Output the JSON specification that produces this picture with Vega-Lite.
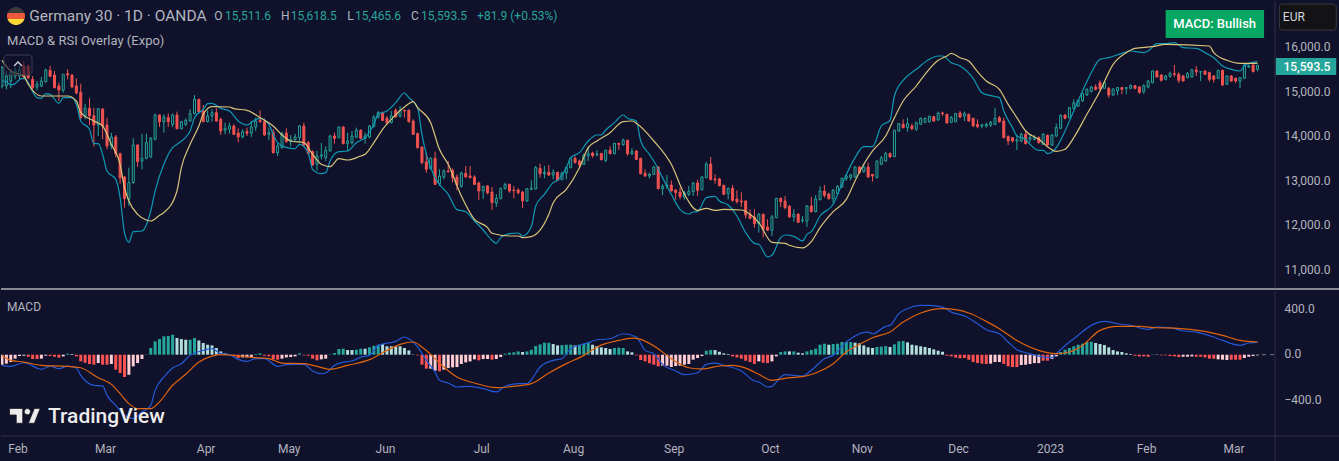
{
"$schema":"https://vega.github.io/schema/vega-lite/v6.json",
"background":"#10112b",
"padding":0,
"spacing":-1,
"data":{"values":[{}]},
"config":{"view":{"stroke":null},"concat":{"spacing":-1},"text":{"font":"Roboto"},
"axis":{"grid":false,"domain":false,"ticks":false,"title":null,"labelColor":"#b2b5be","labelFontSize":12,"labelFont":"Roboto"}},
"datasets":{
"candles":[
{"bar":0,"open":15137,"high":15586,"low":15085,"close":15548},
{"bar":1,"open":15137,"high":15473,"low":15062,"close":15361},
{"bar":2,"open":15249,"high":15511,"low":15085,"close":15436},
{"bar":3,"open":15361,"high":15548,"low":15287,"close":15473},
{"bar":4,"open":15361,"high":15586,"low":15287,"close":15511},
{"bar":5,"open":15586,"high":15698,"low":15287,"close":15339},
{"bar":6,"open":15586,"high":15623,"low":15287,"close":15324},
{"bar":7,"open":15287,"high":15361,"low":15062,"close":15100},
{"bar":8,"open":15115,"high":15249,"low":15040,"close":15175},
{"bar":9,"open":15137,"high":15339,"low":15115,"close":15249},
{"bar":10,"open":15234,"high":15526,"low":15212,"close":15496},
{"bar":11,"open":15488,"high":15586,"low":15339,"close":15354},
{"bar":12,"open":15384,"high":15473,"low":15085,"close":15100},
{"bar":13,"open":15137,"high":15212,"low":14801,"close":15047},
{"bar":14,"open":15040,"high":15399,"low":14988,"close":15399},
{"bar":15,"open":15414,"high":15511,"low":15287,"close":15384},
{"bar":16,"open":15384,"high":15399,"low":15085,"close":15115},
{"bar":17,"open":15137,"high":15309,"low":14950,"close":14980},
{"bar":18,"open":14995,"high":15189,"low":14390,"close":14427},
{"bar":19,"open":14465,"high":14741,"low":14390,"close":14636},
{"bar":20,"open":14636,"high":14861,"low":14263,"close":14465},
{"bar":21,"open":14472,"high":14651,"low":13777,"close":14263},
{"bar":22,"open":14263,"high":14636,"low":14016,"close":14629},
{"bar":23,"open":14621,"high":14636,"low":13941,"close":14240},
{"bar":24,"open":14263,"high":14427,"low":13717,"close":13792},
{"bar":25,"open":13792,"high":14091,"low":13717,"close":13994},
{"bar":26,"open":13994,"high":14038,"low":13530,"close":13620},
{"bar":27,"open":13620,"high":13642,"low":12947,"close":13082},
{"bar":28,"open":13097,"high":13119,"low":12409,"close":12611},
{"bar":29,"open":12596,"high":13306,"low":12447,"close":12970},
{"bar":30,"open":12970,"high":13964,"low":12947,"close":13814},
{"bar":31,"open":13814,"high":13829,"low":13321,"close":13441},
{"bar":32,"open":13455,"high":14068,"low":13269,"close":13515},
{"bar":33,"open":13515,"high":14068,"low":13493,"close":13867},
{"bar":34,"open":13545,"high":13994,"low":13530,"close":13964},
{"bar":35,"open":13941,"high":14517,"low":13919,"close":14487},
{"bar":36,"open":14487,"high":14502,"low":14218,"close":14337},
{"bar":37,"open":14337,"high":14502,"low":14091,"close":14442},
{"bar":38,"open":14427,"high":14517,"low":14218,"close":14337},
{"bar":39,"open":14278,"high":14517,"low":14218,"close":14487},
{"bar":40,"open":14487,"high":14562,"low":14166,"close":14180},
{"bar":41,"open":14180,"high":14352,"low":14166,"close":14337},
{"bar":42,"open":14278,"high":14412,"low":14240,"close":14367},
{"bar":43,"open":14352,"high":14614,"low":14337,"close":14517},
{"bar":44,"open":14517,"high":14935,"low":14502,"close":14838},
{"bar":45,"open":14838,"high":14853,"low":14539,"close":14562},
{"bar":46,"open":14577,"high":14711,"low":14322,"close":14337},
{"bar":47,"open":14337,"high":14592,"low":14322,"close":14465},
{"bar":48,"open":14465,"high":14614,"low":14337,"close":14539},
{"bar":49,"open":14539,"high":14636,"low":14337,"close":14352},
{"bar":50,"open":14390,"high":14427,"low":14038,"close":14128},
{"bar":51,"open":14143,"high":14315,"low":14053,"close":14188},
{"bar":52,"open":14166,"high":14315,"low":14068,"close":14240},
{"bar":53,"open":14240,"high":14278,"low":14038,"close":14053},
{"bar":54,"open":14083,"high":14188,"low":13874,"close":13994},
{"bar":55,"open":13994,"high":14166,"low":13964,"close":14113},
{"bar":56,"open":14113,"high":14203,"low":14016,"close":14076},
{"bar":57,"open":14083,"high":14352,"low":13994,"close":14218},
{"bar":58,"open":14218,"high":14427,"low":14128,"close":14352},
{"bar":59,"open":14367,"high":14592,"low":14315,"close":14337},
{"bar":60,"open":14337,"high":14412,"low":14023,"close":14038},
{"bar":61,"open":14053,"high":14203,"low":13919,"close":14091},
{"bar":62,"open":14091,"high":14166,"low":13620,"close":13642},
{"bar":63,"open":13642,"high":13844,"low":13568,"close":13792},
{"bar":64,"open":13754,"high":14113,"low":13732,"close":14068},
{"bar":65,"open":14083,"high":14188,"low":13867,"close":13889},
{"bar":66,"open":13889,"high":14038,"low":13784,"close":13934},
{"bar":67,"open":13934,"high":14068,"low":13904,"close":13994},
{"bar":68,"open":13979,"high":14263,"low":13867,"close":14240},
{"bar":69,"open":14240,"high":14315,"low":13769,"close":13814},
{"bar":70,"open":13867,"high":13904,"low":13590,"close":13627},
{"bar":71,"open":13665,"high":13695,"low":13343,"close":13366},
{"bar":72,"open":13381,"high":13680,"low":13246,"close":13568},
{"bar":73,"open":13568,"high":13859,"low":13493,"close":13590},
{"bar":74,"open":13530,"high":13784,"low":13455,"close":13695},
{"bar":75,"open":13680,"high":14038,"low":13665,"close":14016},
{"bar":76,"open":14016,"high":14091,"low":13844,"close":13964},
{"bar":77,"open":13979,"high":14233,"low":13964,"close":14218},
{"bar":78,"open":14218,"high":14233,"low":13829,"close":13844},
{"bar":79,"open":13844,"high":14091,"low":13680,"close":13904},
{"bar":80,"open":13867,"high":14128,"low":13829,"close":14016},
{"bar":81,"open":13994,"high":14203,"low":13964,"close":14143},
{"bar":82,"open":14143,"high":14166,"low":13941,"close":13964},
{"bar":83,"open":13964,"high":14091,"low":13844,"close":14016},
{"bar":84,"open":13994,"high":14263,"low":13964,"close":14240},
{"bar":85,"open":14233,"high":14479,"low":14203,"close":14442},
{"bar":86,"open":14442,"high":14577,"low":14412,"close":14539},
{"bar":87,"open":14539,"high":14562,"low":14352,"close":14367},
{"bar":88,"open":14412,"high":14465,"low":14278,"close":14307},
{"bar":89,"open":14315,"high":14577,"low":14300,"close":14465},
{"bar":90,"open":14592,"high":14636,"low":14427,"close":14442},
{"bar":91,"open":14465,"high":14689,"low":14427,"close":14592},
{"bar":92,"open":14592,"high":14614,"low":14427,"close":14577},
{"bar":93,"open":14592,"high":14614,"low":14315,"close":14337},
{"bar":94,"open":14352,"high":14390,"low":14038,"close":14053},
{"bar":95,"open":14068,"high":14091,"low":13732,"close":13754},
{"bar":96,"open":13769,"high":13784,"low":13381,"close":13418},
{"bar":97,"open":13433,"high":13642,"low":13194,"close":13269},
{"bar":98,"open":13284,"high":13545,"low":13269,"close":13515},
{"bar":99,"open":13515,"high":13665,"low":12917,"close":12932},
{"bar":100,"open":12947,"high":13269,"low":12895,"close":13119},
{"bar":101,"open":13097,"high":13269,"low":13044,"close":13231},
{"bar":102,"open":13231,"high":13455,"low":13194,"close":13216},
{"bar":103,"open":13246,"high":13291,"low":12970,"close":13082},
{"bar":104,"open":13097,"high":13157,"low":12798,"close":12917},
{"bar":105,"open":12887,"high":13216,"low":12857,"close":13186},
{"bar":106,"open":13179,"high":13343,"low":13082,"close":13097},
{"bar":107,"open":13119,"high":13343,"low":13067,"close":13082},
{"bar":108,"open":13097,"high":13134,"low":12917,"close":12932},
{"bar":109,"open":12962,"high":12992,"low":12581,"close":12783},
{"bar":110,"open":12783,"high":12895,"low":12603,"close":12887},
{"bar":111,"open":12895,"high":12917,"low":12708,"close":12738},
{"bar":112,"open":12760,"high":12872,"low":12357,"close":12521},
{"bar":113,"open":12514,"high":12708,"low":12424,"close":12618},
{"bar":114,"open":12618,"high":12857,"low":12589,"close":12843},
{"bar":115,"open":12843,"high":12970,"low":12813,"close":12932},
{"bar":116,"open":12932,"high":12947,"low":12745,"close":12783},
{"bar":117,"open":12805,"high":12895,"low":12618,"close":12790},
{"bar":118,"open":12805,"high":12843,"low":12708,"close":12745},
{"bar":119,"open":12760,"high":12783,"low":12402,"close":12559},
{"bar":120,"open":12559,"high":12843,"low":12536,"close":12835},
{"bar":121,"open":12820,"high":13022,"low":12805,"close":12843},
{"bar":122,"open":12828,"high":13343,"low":12813,"close":13306},
{"bar":123,"open":13291,"high":13396,"low":13082,"close":13171},
{"bar":124,"open":13171,"high":13343,"low":13067,"close":13201},
{"bar":125,"open":13201,"high":13366,"low":13119,"close":13141},
{"bar":126,"open":13141,"high":13269,"low":13044,"close":13201},
{"bar":127,"open":13201,"high":13216,"low":13007,"close":13022},
{"bar":128,"open":13037,"high":13216,"low":13022,"close":13186},
{"bar":129,"open":13186,"high":13343,"low":13044,"close":13306},
{"bar":130,"open":13306,"high":13530,"low":13291,"close":13515},
{"bar":131,"open":13515,"high":13560,"low":13396,"close":13425},
{"bar":132,"open":13455,"high":13485,"low":13291,"close":13366},
{"bar":133,"open":13381,"high":13620,"low":13366,"close":13590},
{"bar":134,"open":13575,"high":13769,"low":13455,"close":13620},
{"bar":135,"open":13635,"high":13665,"low":13530,"close":13575},
{"bar":136,"open":13597,"high":13695,"low":13560,"close":13612},
{"bar":137,"open":13620,"high":13642,"low":13470,"close":13485},
{"bar":138,"open":13470,"high":13710,"low":13433,"close":13695},
{"bar":139,"open":13695,"high":13784,"low":13605,"close":13620},
{"bar":140,"open":13620,"high":13859,"low":13605,"close":13852},
{"bar":141,"open":13852,"high":13859,"low":13702,"close":13829},
{"bar":142,"open":13822,"high":13956,"low":13799,"close":13926},
{"bar":143,"open":13919,"high":13934,"low":13575,"close":13620},
{"bar":144,"open":13620,"high":13740,"low":13590,"close":13665},
{"bar":145,"open":13680,"high":13695,"low":13478,"close":13493},
{"bar":146,"open":13515,"high":13530,"low":13156,"close":13171},
{"bar":147,"open":13179,"high":13269,"low":13097,"close":13119},
{"bar":148,"open":13119,"high":13194,"low":13067,"close":13156},
{"bar":149,"open":13156,"high":13343,"low":13141,"close":13321},
{"bar":150,"open":13321,"high":13343,"low":12820,"close":12835},
{"bar":151,"open":12835,"high":12932,"low":12693,"close":12887},
{"bar":152,"open":12887,"high":13142,"low":12828,"close":12917},
{"bar":153,"open":12917,"high":13022,"low":12768,"close":12783},
{"bar":154,"open":12805,"high":12820,"low":12589,"close":12745},
{"bar":155,"open":12760,"high":12857,"low":12596,"close":12656},
{"bar":156,"open":12648,"high":12783,"low":12589,"close":12738},
{"bar":157,"open":12708,"high":12895,"low":12671,"close":12775},
{"bar":158,"open":12768,"high":12977,"low":12671,"close":12962},
{"bar":159,"open":12962,"high":13037,"low":12671,"close":12798},
{"bar":160,"open":12813,"high":13112,"low":12798,"close":13097},
{"bar":161,"open":13082,"high":13433,"low":13067,"close":13388},
{"bar":162,"open":13388,"high":13545,"low":13022,"close":13037},
{"bar":163,"open":13052,"high":13157,"low":12947,"close":13030},
{"bar":164,"open":13052,"high":13082,"low":12887,"close":12903},
{"bar":165,"open":12910,"high":12925,"low":12693,"close":12708},
{"bar":166,"open":12723,"high":12857,"low":12596,"close":12843},
{"bar":167,"open":12843,"high":12917,"low":12544,"close":12574},
{"bar":168,"open":12603,"high":12798,"low":12499,"close":12544},
{"bar":169,"open":12559,"high":12753,"low":12424,"close":12536},
{"bar":170,"open":12559,"high":12574,"low":12170,"close":12245},
{"bar":171,"open":12260,"high":12372,"low":12148,"close":12170},
{"bar":172,"open":12200,"high":12372,"low":11961,"close":12050},
{"bar":173,"open":12050,"high":12290,"low":11849,"close":12260},
{"bar":174,"open":12260,"high":12275,"low":11737,"close":11923},
{"bar":175,"open":11976,"high":12148,"low":11886,"close":11901},
{"bar":176,"open":11901,"high":12245,"low":11774,"close":12200},
{"bar":177,"open":12185,"high":12633,"low":12170,"close":12618},
{"bar":178,"open":12618,"high":12633,"low":12424,"close":12544},
{"bar":179,"open":12559,"high":12671,"low":12372,"close":12409},
{"bar":180,"open":12439,"high":12469,"low":12185,"close":12200},
{"bar":181,"open":12200,"high":12372,"low":12095,"close":12260},
{"bar":182,"open":12260,"high":12290,"low":12065,"close":12080},
{"bar":183,"open":12118,"high":12222,"low":12065,"close":12133},
{"bar":184,"open":12110,"high":12469,"low":11976,"close":12447},
{"bar":185,"open":12447,"high":12648,"low":12304,"close":12319},
{"bar":186,"open":12319,"high":12693,"low":12304,"close":12603},
{"bar":187,"open":12588,"high":12887,"low":12574,"close":12783},
{"bar":188,"open":12783,"high":12917,"low":12633,"close":12686},
{"bar":189,"open":12716,"high":12745,"low":12589,"close":12611},
{"bar":190,"open":12611,"high":12820,"low":12521,"close":12805},
{"bar":191,"open":12723,"high":12917,"low":12708,"close":12887},
{"bar":192,"open":12873,"high":13082,"low":12857,"close":13067},
{"bar":193,"open":13067,"high":13157,"low":13007,"close":13119},
{"bar":194,"open":13082,"high":13171,"low":13022,"close":13142},
{"bar":195,"open":13097,"high":13336,"low":13082,"close":13321},
{"bar":196,"open":13321,"high":13343,"low":13171,"close":13194},
{"bar":197,"open":13216,"high":13396,"low":13194,"close":13314},
{"bar":198,"open":13321,"high":13418,"low":13082,"close":13097},
{"bar":199,"open":13157,"high":13157,"low":12992,"close":13119},
{"bar":200,"open":13082,"high":13470,"low":13067,"close":13455},
{"bar":201,"open":13381,"high":13568,"low":13366,"close":13530},
{"bar":202,"open":13455,"high":13665,"low":13441,"close":13620},
{"bar":203,"open":13627,"high":13642,"low":13530,"close":13545},
{"bar":204,"open":13553,"high":14158,"low":13545,"close":14143},
{"bar":205,"open":14128,"high":14307,"low":14113,"close":14293},
{"bar":206,"open":14278,"high":14390,"low":14188,"close":14203},
{"bar":207,"open":14203,"high":14427,"low":14113,"close":14293},
{"bar":208,"open":14240,"high":14293,"low":14143,"close":14180},
{"bar":209,"open":14166,"high":14337,"low":14128,"close":14315},
{"bar":210,"open":14278,"high":14427,"low":14263,"close":14412},
{"bar":211,"open":14322,"high":14427,"low":14307,"close":14412},
{"bar":212,"open":14337,"high":14472,"low":14315,"close":14457},
{"bar":213,"open":14450,"high":14465,"low":14337,"close":14352},
{"bar":214,"open":14375,"high":14562,"low":14360,"close":14524},
{"bar":215,"open":14532,"high":14562,"low":14465,"close":14517},
{"bar":216,"open":14502,"high":14517,"low":14293,"close":14307},
{"bar":217,"open":14322,"high":14465,"low":14307,"close":14427},
{"bar":218,"open":14337,"high":14532,"low":14322,"close":14517},
{"bar":219,"open":14532,"high":14577,"low":14412,"close":14442},
{"bar":220,"open":14465,"high":14562,"low":14352,"close":14517},
{"bar":221,"open":14502,"high":14517,"low":14337,"close":14352},
{"bar":222,"open":14412,"high":14427,"low":14225,"close":14240},
{"bar":223,"open":14278,"high":14390,"low":14188,"close":14225},
{"bar":224,"open":14240,"high":14293,"low":14188,"close":14263},
{"bar":225,"open":14240,"high":14315,"low":14203,"close":14278},
{"bar":226,"open":14263,"high":14352,"low":14218,"close":14323},
{"bar":227,"open":14278,"high":14651,"low":14263,"close":14412},
{"bar":228,"open":14427,"high":14465,"low":14315,"close":14337},
{"bar":229,"open":14352,"high":14427,"low":13964,"close":13979},
{"bar":230,"open":14008,"high":14031,"low":13814,"close":13904},
{"bar":231,"open":13979,"high":13994,"low":13867,"close":13904},
{"bar":232,"open":13904,"high":14053,"low":13702,"close":13926},
{"bar":233,"open":13904,"high":14091,"low":13874,"close":14053},
{"bar":234,"open":14053,"high":14143,"low":13829,"close":13844},
{"bar":235,"open":13941,"high":14038,"low":13867,"close":13979},
{"bar":236,"open":13941,"high":14038,"low":13919,"close":13979},
{"bar":237,"open":13979,"high":14008,"low":13844,"close":13867},
{"bar":238,"open":13829,"high":14083,"low":13814,"close":14053},
{"bar":239,"open":14031,"high":14046,"low":13799,"close":13814},
{"bar":240,"open":13814,"high":14053,"low":13799,"close":14038},
{"bar":241,"open":14016,"high":14293,"low":13994,"close":14203},
{"bar":242,"open":14188,"high":14502,"low":14166,"close":14479},
{"bar":243,"open":14487,"high":14502,"low":14390,"close":14412},
{"bar":244,"open":14427,"high":14666,"low":14412,"close":14651},
{"bar":245,"open":14636,"high":14838,"low":14614,"close":14763},
{"bar":246,"open":14689,"high":14831,"low":14666,"close":14816},
{"bar":247,"open":14801,"high":14980,"low":14786,"close":14965},
{"bar":248,"open":14935,"high":15085,"low":14913,"close":15062},
{"bar":249,"open":15010,"high":15137,"low":14995,"close":15115},
{"bar":250,"open":15115,"high":15175,"low":15040,"close":15062},
{"bar":251,"open":15212,"high":15264,"low":15055,"close":15070},
{"bar":252,"open":15085,"high":15234,"low":15070,"close":15212},
{"bar":253,"open":15085,"high":15115,"low":14876,"close":14935},
{"bar":254,"open":14935,"high":15085,"low":14920,"close":15070},
{"bar":255,"open":15025,"high":15115,"low":14935,"close":15100},
{"bar":256,"open":15100,"high":15122,"low":14950,"close":15062},
{"bar":257,"open":15085,"high":15115,"low":14950,"close":15100},
{"bar":258,"open":15085,"high":15175,"low":15062,"close":15145},
{"bar":259,"open":15145,"high":15160,"low":15062,"close":15085},
{"bar":260,"open":15115,"high":15130,"low":14965,"close":14988},
{"bar":261,"open":15010,"high":15175,"low":14965,"close":15145},
{"bar":262,"open":15115,"high":15264,"low":15085,"close":15249},
{"bar":263,"open":15212,"high":15488,"low":15197,"close":15473},
{"bar":264,"open":15473,"high":15488,"low":15324,"close":15339},
{"bar":265,"open":15384,"high":15399,"low":15234,"close":15264},
{"bar":266,"open":15287,"high":15384,"low":15264,"close":15361},
{"bar":267,"open":15354,"high":15458,"low":15324,"close":15414},
{"bar":268,"open":15414,"high":15608,"low":15339,"close":15399},
{"bar":269,"open":15399,"high":15444,"low":15204,"close":15264},
{"bar":270,"open":15361,"high":15384,"low":15234,"close":15249},
{"bar":271,"open":15324,"high":15451,"low":15309,"close":15414},
{"bar":272,"open":15339,"high":15526,"low":15324,"close":15496},
{"bar":273,"open":15496,"high":15586,"low":15361,"close":15458},
{"bar":274,"open":15451,"high":15473,"low":15249,"close":15458},
{"bar":275,"open":15473,"high":15488,"low":15384,"close":15399},
{"bar":276,"open":15436,"high":15458,"low":15234,"close":15287},
{"bar":277,"open":15361,"high":15384,"low":15212,"close":15287},
{"bar":278,"open":15309,"high":15503,"low":15294,"close":15488},
{"bar":279,"open":15488,"high":15503,"low":15137,"close":15160},
{"bar":280,"open":15175,"high":15376,"low":15160,"close":15361},
{"bar":281,"open":15361,"high":15384,"low":15234,"close":15249},
{"bar":282,"open":15309,"high":15324,"low":15204,"close":15249},
{"bar":283,"open":15249,"high":15339,"low":15085,"close":15324},
{"bar":284,"open":15309,"high":15623,"low":15294,"close":15608},
{"bar":285,"open":15563,"high":15623,"low":15548,"close":15586},
{"bar":286,"open":15608,"high":15638,"low":15444,"close":15458},
{"bar":287,"open":15511.6,"high":15618.5,"low":15465.6,"close":15593.5}
],
"fast":[
{"bar":0,"value":15249},{"bar":1,"value":15234},{"bar":2,"value":15160},{"bar":3,"value":15190},{"bar":4,"value":15279},{"bar":5,"value":15309},{"bar":6,"value":15212},{"bar":7,"value":15010},{"bar":8,"value":14876},{"bar":9,"value":14861},{"bar":10,"value":14965},{"bar":11,"value":14950},{"bar":13,"value":14749},{"bar":14,"value":14876},{"bar":16,"value":14876},{"bar":17,"value":14726},{"bar":18,"value":14352},{"bar":20,"value":14166},{"bar":21,"value":13844},{"bar":22,"value":13844},{"bar":23,"value":13605},{"bar":24,"value":13231},{"bar":26,"value":13044},{"bar":27,"value":12633},{"bar":28,"value":11849},{"bar":29,"value":11632},{"bar":30,"value":11871},{"bar":32,"value":11886},{"bar":34,"value":12334},{"bar":35,"value":12783},{"bar":37,"value":13381},{"bar":39,"value":13754},{"bar":40,"value":13829},{"bar":43,"value":14128},{"bar":44,"value":14427},{"bar":46,"value":14614},{"bar":47,"value":14741},{"bar":48,"value":14749},{"bar":50,"value":14636},{"bar":52,"value":14577},{"bar":54,"value":14352},{"bar":56,"value":14263},{"bar":58,"value":14390},{"bar":59,"value":14412},{"bar":61,"value":14278},{"bar":62,"value":14053},{"bar":63,"value":13866},{"bar":66,"value":13740},{"bar":67,"value":13732},{"bar":68,"value":13829},{"bar":70,"value":13642},{"bar":71,"value":13269},{"bar":73,"value":13171},{"bar":74,"value":13194},{"bar":75,"value":13455},{"bar":77,"value":13665},{"bar":79,"value":13680},{"bar":81,"value":13866},{"bar":83,"value":13979},{"bar":85,"value":14278},{"bar":86,"value":14502},{"bar":88,"value":14577},{"bar":90,"value":14763},{"bar":92,"value":14980},{"bar":93,"value":14876},{"bar":95,"value":14651},{"bar":96,"value":14053},{"bar":97,"value":13605},{"bar":99,"value":13082},
{"bar":100,"value":12932},{"bar":102,"value":12708},{"bar":104,"value":12364},{"bar":106,"value":12319},{"bar":108,"value":12110},{"bar":110,"value":11908},{"bar":112,"value":11677},{"bar":113,"value":11609},{"bar":114,"value":11736},{"bar":116,"value":11826},{"bar":118,"value":11841},{"bar":119,"value":11774},{"bar":121,"value":11983},{"bar":122,"value":12447},{"bar":124,"value":12708},{"bar":126,"value":12970},{"bar":127,"value":13022},{"bar":129,"value":13306},{"bar":130,"value":13530},{"bar":132,"value":13642},{"bar":134,"value":13904},{"bar":136,"value":14038},{"bar":137,"value":14038},{"bar":138,"value":14151},{"bar":140,"value":14315},{"bar":142,"value":14487},{"bar":143,"value":14412},{"bar":145,"value":14352},{"bar":146,"value":13904},{"bar":148,"value":13605},{"bar":149,"value":13455},{"bar":151,"value":13082},{"bar":153,"value":12708},{"bar":155,"value":12372},{"bar":157,"value":12267},{"bar":158,"value":12312},{"bar":159,"value":12319},{"bar":161,"value":12633},{"bar":163,"value":12663},{"bar":164,"value":12558},{"bar":166,"value":12469},{"bar":168,"value":12222},{"bar":170,"value":11849},{"bar":172,"value":11609},{"bar":173,"value":11587},{"bar":175,"value":11303},{"bar":176,"value":11340},{"bar":178,"value":11736},{"bar":179,"value":11796},{"bar":181,"value":11766},{"bar":183,"value":11662},{"bar":184,"value":11811},{"bar":185,"value":11871},{"bar":187,"value":12222},{"bar":190,"value":12484},{"bar":192,"value":12932},{"bar":195,"value":13530},{"bar":197,"value":13777},
{"bar":199,"value":13777},{"bar":201,"value":14240},{"bar":203,"value":14367},{"bar":204,"value":14913},{"bar":206,"value":15264},{"bar":209,"value":15511},{"bar":212,"value":15735},{"bar":214,"value":15810},{"bar":215,"value":15810},{"bar":217,"value":15660},{"bar":219,"value":15586},{"bar":222,"value":15309},{"bar":224,"value":14988},{"bar":226,"value":14920},{"bar":228,"value":14876},{"bar":229,"value":14577},{"bar":231,"value":14203},{"bar":232,"value":14016},{"bar":234,"value":13941},{"bar":235,"value":13829},{"bar":237,"value":13695},{"bar":238,"value":13695},{"bar":239,"value":13620},{"bar":241,"value":13754},{"bar":243,"value":14128},{"bar":245,"value":14577},{"bar":247,"value":15025},{"bar":249,"value":15436},{"bar":251,"value":15735},{"bar":253,"value":15772},{"bar":256,"value":15870},{"bar":258,"value":15922},{"bar":261,"value":15885},{"bar":262,"value":15922},{"bar":264,"value":16086},{"bar":266,"value":16086},{"bar":268,"value":16109},{"bar":270,"value":15997},{"bar":273,"value":15982},{"bar":275,"value":15885},{"bar":277,"value":15772},{"bar":279,"value":15586},{"bar":281,"value":15511},{"bar":283,"value":15473},{"bar":284,"value":15586},{"bar":285,"value":15645},{"bar":287,"value":15683}
],
"slow":[
{"bar":0,"value":15713},{"bar":2,"value":15473},{"bar":5,"value":15361},{"bar":6,"value":15175},{"bar":9,"value":14913},{"bar":11,"value":14913},{"bar":15,"value":14913},{"bar":17,"value":14801},{"bar":18,"value":14539},{"bar":21,"value":14352},{"bar":23,"value":14240},{"bar":25,"value":13829},{"bar":27,"value":13381},{"bar":28,"value":12857},{"bar":29,"value":12558},{"bar":31,"value":12260},{"bar":33,"value":12133},{"bar":34,"value":12110},{"bar":36,"value":12237},{"bar":37,"value":12297},{"bar":40,"value":12783},{"bar":41,"value":13306},{"bar":43,"value":13829},{"bar":45,"value":14240},{"bar":46,"value":14502},{"bar":48,"value":14674},{"bar":52,"value":14666},{"bar":53,"value":14629},{"bar":56,"value":14592},{"bar":59,"value":14427},{"bar":62,"value":14240},{"bar":64,"value":14038},{"bar":66,"value":13904},{"bar":69,"value":13866},{"bar":71,"value":13605},{"bar":73,"value":13381},{"bar":75,"value":13328},{"bar":77,"value":13508},{"bar":79,"value":13478},{"bar":82,"value":13568},{"bar":83,"value":13605},{"bar":85,"value":13866},{"bar":87,"value":14166},{"bar":89,"value":14390},{"bar":92,"value":14666},{"bar":94,"value":14786},{"bar":95,"value":14651},{"bar":98,"value":14315},
{"bar":100,"value":13717},{"bar":102,"value":13381},{"bar":105,"value":12671},{"bar":108,"value":12147},{"bar":111,"value":11961},{"bar":112,"value":11834},{"bar":116,"value":11774},{"bar":118,"value":11774},{"bar":119,"value":11736},{"bar":121,"value":11759},{"bar":125,"value":12260},{"bar":126,"value":12521},{"bar":129,"value":12820},{"bar":132,"value":13306},{"bar":134,"value":13754},{"bar":136,"value":13904},{"bar":139,"value":14091},{"bar":142,"value":14337},{"bar":144,"value":14352},{"bar":145,"value":14300},{"bar":149,"value":13904},{"bar":153,"value":13381},{"bar":156,"value":12708},{"bar":159,"value":12349},{"bar":161,"value":12394},{"bar":163,"value":12349},{"bar":165,"value":12372},{"bar":169,"value":12357},{"bar":171,"value":12260},{"bar":173,"value":12073},{"bar":176,"value":11632},{"bar":179,"value":11609},{"bar":180,"value":11565},{"bar":183,"value":11505},{"bar":185,"value":11647},{"bar":187,"value":11961},{"bar":190,"value":12319},{"bar":193,"value":12596},{"bar":195,"value":13007},{"bar":197,"value":13381},
{"bar":199,"value":13680},{"bar":202,"value":14016},{"bar":204,"value":14427},{"bar":206,"value":14801},{"bar":209,"value":15137},{"bar":211,"value":15399},{"bar":214,"value":15713},{"bar":216,"value":15810},{"bar":217,"value":15870},{"bar":219,"value":15772},{"bar":221,"value":15698},{"bar":223,"value":15459},{"bar":225,"value":15249},{"bar":228,"value":15062},{"bar":230,"value":14726},{"bar":232,"value":14427},{"bar":234,"value":14128},{"bar":237,"value":13941},{"bar":239,"value":13777},{"bar":241,"value":13672},{"bar":243,"value":13717},{"bar":245,"value":13979},{"bar":248,"value":14502},{"bar":251,"value":15025},{"bar":254,"value":15623},{"bar":257,"value":15885},{"bar":259,"value":15982},{"bar":263,"value":16019},{"bar":266,"value":16071},{"bar":276,"value":16034},{"bar":277,"value":15885},{"bar":280,"value":15713},{"bar":283,"value":15645},{"bar":287,"value":15645}
],
"macd":[
{"bar":0,"value":-94},{"bar":2,"value":-103},{"bar":5,"value":-71},{"bar":8,"value":-118},{"bar":9,"value":-129},{"bar":11,"value":-100},{"bar":13,"value":-123},{"bar":15,"value":-100},{"bar":17,"value":-118},{"bar":18,"value":-182},{"bar":21,"value":-270},{"bar":23,"value":-276},{"bar":24,"value":-359},{"bar":26,"value":-447},{"bar":28,"value":-535},{"bar":30,"value":-564},{"bar":32,"value":-506},{"bar":34,"value":-447},{"bar":35,"value":-315},{"bar":37,"value":-197},{"bar":39,"value":-118},{"bar":41,"value":-79},{"bar":43,"value":-6},{"bar":46,"value":38},{"bar":48,"value":53},{"bar":50,"value":9},{"bar":52,"value":0},{"bar":54,"value":-41},{"bar":56,"value":-59},{"bar":58,"value":-35},{"bar":60,"value":-35},{"bar":63,"value":-103},{"bar":65,"value":-88},{"bar":67,"value":-85},{"bar":69,"value":-85},{"bar":71,"value":-144},{"bar":73,"value":-168},{"bar":74,"value":-162},{"bar":76,"value":-94},{"bar":78,"value":-65},{"bar":80,"value":-56},{"bar":82,"value":-21},{"bar":84,"value":-6},{"bar":86,"value":82},{"bar":90,"value":118},{"bar":92,"value":156},{"bar":93,"value":141},{"bar":95,"value":68},{"bar":97,"value":-50},{"bar":99,"value":-153},
{"bar":100,"value":-226},{"bar":102,"value":-250},{"bar":104,"value":-285},{"bar":107,"value":-279},{"bar":110,"value":-300},{"bar":113,"value":-329},{"bar":115,"value":-279},{"bar":118,"value":-256},{"bar":120,"value":-256},{"bar":121,"value":-221},{"bar":123,"value":-109},{"bar":126,"value":-50},{"bar":128,"value":-35},{"bar":130,"value":53},{"bar":134,"value":106},{"bar":136,"value":132},{"bar":139,"value":141},{"bar":142,"value":185},{"bar":145,"value":156},{"bar":147,"value":38},{"bar":149,"value":9},{"bar":151,"value":-85},{"bar":154,"value":-144},{"bar":156,"value":-176},{"bar":159,"value":-159},{"bar":161,"value":-85},{"bar":163,"value":-74},{"bar":165,"value":-94},{"bar":169,"value":-144},{"bar":172,"value":-232},{"bar":173,"value":-241},{"bar":175,"value":-285},{"bar":176,"value":-279},{"bar":178,"value":-197},{"bar":179,"value":-176},{"bar":183,"value":-188},{"bar":185,"value":-138},{"bar":188,"value":-35},{"bar":190,"value":-6},{"bar":193,"value":112},{"bar":195,"value":165},{"bar":197,"value":197},
{"bar":198,"value":200},{"bar":199,"value":185},{"bar":202,"value":250},{"bar":203,"value":259},{"bar":205,"value":362},{"bar":207,"value":406},{"bar":210,"value":435},{"bar":212,"value":435},{"bar":215,"value":420},{"bar":217,"value":376},{"bar":220,"value":341},{"bar":223,"value":273},{"bar":225,"value":220},{"bar":228,"value":185},{"bar":230,"value":112},{"bar":232,"value":44},{"bar":235,"value":9},{"bar":237,"value":-12},{"bar":240,"value":-26},{"bar":241,"value":9},{"bar":244,"value":112},{"bar":246,"value":171},{"bar":249,"value":259},{"bar":252,"value":294},{"bar":255,"value":273},{"bar":258,"value":259},{"bar":262,"value":223},{"bar":264,"value":244},{"bar":267,"value":238},{"bar":270,"value":209},{"bar":273,"value":200},{"bar":277,"value":156},{"bar":279,"value":126},{"bar":283,"value":82},{"bar":285,"value":103},{"bar":287,"value":109}
],
"signal":[
{"bar":0,"value":-6},{"bar":2,"value":-50},{"bar":5,"value":-65},{"bar":9,"value":-94},{"bar":15,"value":-103},{"bar":18,"value":-115},{"bar":22,"value":-203},{"bar":25,"value":-262},{"bar":27,"value":-344},{"bar":29,"value":-432},{"bar":31,"value":-476},{"bar":34,"value":-476},{"bar":36,"value":-417},{"bar":39,"value":-270},{"bar":42,"value":-173},{"bar":45,"value":-65},{"bar":48,"value":-12},{"bar":50,"value":0},{"bar":53,"value":-6},{"bar":58,"value":-26},{"bar":61,"value":-35},{"bar":64,"value":-74},{"bar":69,"value":-79},{"bar":72,"value":-103},{"bar":75,"value":-129},{"bar":79,"value":-94},{"bar":84,"value":-44},{"bar":88,"value":38},{"bar":91,"value":91},{"bar":94,"value":112},{"bar":96,"value":68},{"bar":99,"value":-35},
{"bar":101,"value":-109},{"bar":104,"value":-197},{"bar":108,"value":-250},{"bar":113,"value":-291},{"bar":117,"value":-279},{"bar":121,"value":-256},{"bar":125,"value":-162},{"bar":129,"value":-79},{"bar":133,"value":-6},{"bar":136,"value":68},{"bar":141,"value":126},{"bar":144,"value":147},{"bar":146,"value":135},{"bar":150,"value":53},{"bar":153,"value":-35},{"bar":157,"value":-115},{"bar":160,"value":-126},{"bar":164,"value":-100},{"bar":167,"value":-94},{"bar":170,"value":-118},{"bar":173,"value":-173},{"bar":176,"value":-226},{"bar":180,"value":-203},{"bar":183,"value":-194},{"bar":186,"value":-162},{"bar":190,"value":-79},{"bar":193,"value":24},{"bar":196,"value":91},
{"bar":199,"value":150},{"bar":203,"value":200},{"bar":206,"value":288},{"bar":210,"value":368},{"bar":215,"value":406},{"bar":218,"value":397},{"bar":221,"value":368},{"bar":225,"value":294},{"bar":228,"value":229},{"bar":232,"value":126},{"bar":237,"value":38},{"bar":241,"value":9},{"bar":244,"value":24},{"bar":247,"value":82},{"bar":251,"value":215},{"bar":255,"value":250},{"bar":260,"value":250},{"bar":264,"value":238},{"bar":268,"value":235},{"bar":275,"value":206},{"bar":279,"value":171},{"bar":283,"value":126},{"bar":287,"value":112}
],
"histogram":[
{"bar":0,"value":-88,"phase":"ease"},{"bar":1,"value":-79,"phase":"ease"},{"bar":2,"value":-65,"phase":"ease"},{"bar":3,"value":-35,"phase":"ease"},{"bar":4,"value":-12,"phase":"ease"},{"bar":5,"value":-9,"phase":"ease"},{"bar":6,"value":-18,"phase":"down"},{"bar":7,"value":-38,"phase":"down"},{"bar":8,"value":-38,"phase":"down"},{"bar":9,"value":-35,"phase":"ease"},{"bar":10,"value":-9,"phase":"ease"},{"bar":11,"value":-12,"phase":"down"},{"bar":12,"value":-18,"phase":"down"},{"bar":13,"value":-26,"phase":"down"},{"bar":14,"value":-15,"phase":"ease"},{"bar":15,"value":9,"phase":"up"},{"bar":16,"value":6,"phase":"fade"},{"bar":17,"value":-15,"phase":"down"},{"bar":18,"value":-59,"phase":"down"},{"bar":19,"value":-71,"phase":"down"},{"bar":20,"value":-82,"phase":"down"},{"bar":21,"value":-88,"phase":"down"},{"bar":22,"value":-74,"phase":"ease"},{"bar":23,"value":-88,"phase":"down"},{"bar":24,"value":-88,"phase":"down"},{"bar":25,"value":-82,"phase":"ease"},{"bar":26,"value":-132,"phase":"down"},{"bar":27,"value":-162,"phase":"down"},{"bar":28,"value":-197,"phase":"down"},{"bar":29,"value":-176,"phase":"ease"},{"bar":30,"value":-103,"phase":"ease"},{"bar":31,"value":-74,"phase":"ease"},{"bar":32,"value":-38,"phase":"ease"},{"bar":33,"value":3,"phase":"up"},{"bar":34,"value":59,"phase":"up"},{"bar":35,"value":118,"phase":"up"},{"bar":36,"value":138,"phase":"up"},{"bar":37,"value":162,"phase":"up"},{"bar":38,"value":165,"phase":"up"},{"bar":39,"value":176,"phase":"up"},{"bar":40,"value":147,"phase":"fade"},{"bar":41,"value":138,"phase":"fade"},{"bar":42,"value":132,"phase":"fade"},{"bar":43,"value":132,"phase":"up"},{"bar":44,"value":147,"phase":"up"},{"bar":45,"value":126,"phase":"fade"},{"bar":46,"value":103,"phase":"fade"},{"bar":47,"value":88,"phase":"fade"},{"bar":48,"value":82,"phase":"fade"},{"bar":49,"value":59,"phase":"fade"},{"bar":50,"value":29,"phase":"fade"},{"bar":51,"value":12,"phase":"fade"},{"bar":52,"value":3,"phase":"fade"},{"bar":53,"value":-15,"phase":"down"},{"bar":54,"value":-29,"phase":"down"},{"bar":55,"value":-24,"phase":"ease"},{"bar":56,"value":-24,"phase":"ease"},{"bar":57,"value":-21,"phase":"ease"},{"bar":58,"value":6,"phase":"up"},{"bar":59,"value":12,"phase":"up"},{"bar":60,"value":-9,"phase":"down"},{"bar":61,"value":-15,"phase":"down"},{"bar":62,"value":-41,"phase":"down"},{"bar":63,"value":-44,"phase":"down"},{"bar":64,"value":-35,"phase":"ease"},{"bar":65,"value":-24,"phase":"ease"},{"bar":66,"value":-21,"phase":"ease"},{"bar":67,"value":-15,"phase":"ease"},{"bar":68,"value":12,"phase":"up"},{"bar":69,"value":-6,"phase":"down"},{"bar":70,"value":-9,"phase":"down"},{"bar":71,"value":-35,"phase":"down"},{"bar":72,"value":-50,"phase":"down"},{"bar":73,"value":-41,"phase":"ease"},{"bar":74,"value":-35,"phase":"ease"},{"bar":75,"value":3,"phase":"up"},{"bar":76,"value":15,"phase":"up"},{"bar":77,"value":50,"phase":"up"},{"bar":78,"value":53,"phase":"up"},{"bar":79,"value":41,"phase":"fade"},{"bar":80,"value":41,"phase":"fade"},{"bar":81,"value":44,"phase":"up"},{"bar":82,"value":53,"phase":"up"},{"bar":83,"value":53,"phase":"fade"},{"bar":84,"value":65,"phase":"up"},{"bar":85,"value":79,"phase":"up"},{"bar":86,"value":88,"phase":"up"},{"bar":87,"value":94,"phase":"fade"},{"bar":88,"value":74,"phase":"fade"},{"bar":89,"value":74,"phase":"fade"},{"bar":90,"value":74,"phase":"fade"},{"bar":91,"value":74,"phase":"fade"},{"bar":92,"value":59,"phase":"fade"},{"bar":93,"value":38,"phase":"fade"},{"bar":94,"value":3,"phase":"fade"},{"bar":95,"value":-6,"phase":"down"},{"bar":96,"value":-88,"phase":"down"},{"bar":97,"value":-123,"phase":"down"},{"bar":98,"value":-123,"phase":"ease"},{"bar":99,"value":-141,"phase":"ease"},{"bar":100,"value":-147,"phase":"down"},
{"bar":101,"value":-132,"phase":"ease"},{"bar":102,"value":-118,"phase":"ease"},{"bar":103,"value":-112,"phase":"ease"},{"bar":104,"value":-109,"phase":"ease"},{"bar":105,"value":-82,"phase":"ease"},{"bar":106,"value":-68,"phase":"ease"},{"bar":107,"value":-59,"phase":"ease"},{"bar":108,"value":-41,"phase":"ease"},{"bar":109,"value":-50,"phase":"down"},{"bar":110,"value":-38,"phase":"ease"},{"bar":111,"value":-38,"phase":"ease"},{"bar":112,"value":-44,"phase":"down"},{"bar":113,"value":-38,"phase":"ease"},{"bar":114,"value":-21,"phase":"ease"},{"bar":115,"value":9,"phase":"up"},{"bar":116,"value":18,"phase":"up"},{"bar":117,"value":21,"phase":"up"},{"bar":118,"value":29,"phase":"up"},{"bar":119,"value":24,"phase":"fade"},{"bar":120,"value":29,"phase":"up"},{"bar":121,"value":44,"phase":"up"},{"bar":122,"value":76,"phase":"up"},{"bar":123,"value":91,"phase":"up"},{"bar":124,"value":106,"phase":"up"},{"bar":125,"value":106,"phase":"up"},{"bar":126,"value":94,"phase":"fade"},{"bar":127,"value":82,"phase":"fade"},{"bar":128,"value":85,"phase":"up"},{"bar":129,"value":88,"phase":"up"},{"bar":130,"value":88,"phase":"up"},{"bar":131,"value":82,"phase":"fade"},{"bar":132,"value":88,"phase":"up"},{"bar":133,"value":97,"phase":"up"},{"bar":134,"value":106,"phase":"up"},{"bar":135,"value":88,"phase":"fade"},{"bar":136,"value":76,"phase":"fade"},{"bar":137,"value":65,"phase":"fade"},{"bar":138,"value":59,"phase":"fade"},{"bar":139,"value":50,"phase":"fade"},{"bar":140,"value":59,"phase":"up"},{"bar":141,"value":62,"phase":"up"},{"bar":142,"value":59,"phase":"up"},{"bar":143,"value":29,"phase":"fade"},{"bar":144,"value":21,"phase":"fade"},{"bar":145,"value":-6,"phase":"down"},{"bar":146,"value":-47,"phase":"down"},{"bar":147,"value":-59,"phase":"down"},{"bar":148,"value":-76,"phase":"down"},{"bar":149,"value":-88,"phase":"down"},{"bar":150,"value":-103,"phase":"down"},{"bar":151,"value":-97,"phase":"ease"},{"bar":152,"value":-97,"phase":"ease"},{"bar":153,"value":-109,"phase":"ease"},{"bar":154,"value":-100,"phase":"ease"},{"bar":155,"value":-97,"phase":"ease"},{"bar":156,"value":-88,"phase":"ease"},{"bar":157,"value":-82,"phase":"ease"},{"bar":158,"value":-44,"phase":"ease"},{"bar":159,"value":-29,"phase":"ease"},{"bar":160,"value":-12,"phase":"ease"},{"bar":161,"value":35,"phase":"up"},{"bar":162,"value":41,"phase":"up"},{"bar":163,"value":41,"phase":"fade"},{"bar":164,"value":26,"phase":"fade"},{"bar":165,"value":12,"phase":"fade"},{"bar":166,"value":6,"phase":"fade"},{"bar":167,"value":-15,"phase":"down"},{"bar":168,"value":-24,"phase":"down"},{"bar":169,"value":-35,"phase":"down"},{"bar":170,"value":-53,"phase":"down"},{"bar":171,"value":-65,"phase":"down"},{"bar":172,"value":-82,"phase":"down"},{"bar":173,"value":-59,"phase":"ease"},{"bar":174,"value":-71,"phase":"down"},{"bar":175,"value":-74,"phase":"down"},{"bar":176,"value":-59,"phase":"ease"},{"bar":177,"value":-15,"phase":"ease"},{"bar":178,"value":24,"phase":"up"},{"bar":179,"value":29,"phase":"up"},{"bar":180,"value":29,"phase":"fade"},{"bar":181,"value":29,"phase":"up"},{"bar":182,"value":18,"phase":"fade"},{"bar":183,"value":12,"phase":"fade"},{"bar":184,"value":29,"phase":"up"},{"bar":185,"value":41,"phase":"up"},{"bar":186,"value":53,"phase":"up"},{"bar":187,"value":88,"phase":"up"},{"bar":188,"value":97,"phase":"up"},{"bar":189,"value":88,"phase":"fade"},{"bar":190,"value":94,"phase":"up"},{"bar":191,"value":97,"phase":"up"},{"bar":192,"value":112,"phase":"up"},{"bar":193,"value":112,"phase":"up"},{"bar":194,"value":112,"phase":"up"},{"bar":195,"value":106,"phase":"fade"},{"bar":196,"value":100,"phase":"fade"},{"bar":197,"value":82,"phase":"fade"},{"bar":198,"value":65,"phase":"fade"},
{"bar":199,"value":59,"phase":"fade"},{"bar":200,"value":68,"phase":"up"},{"bar":201,"value":71,"phase":"up"},{"bar":202,"value":76,"phase":"up"},{"bar":203,"value":68,"phase":"fade"},{"bar":204,"value":91,"phase":"up"},{"bar":205,"value":118,"phase":"up"},{"bar":206,"value":121,"phase":"up"},{"bar":207,"value":109,"phase":"fade"},{"bar":208,"value":88,"phase":"fade"},{"bar":209,"value":82,"phase":"fade"},{"bar":210,"value":74,"phase":"fade"},{"bar":211,"value":68,"phase":"fade"},{"bar":212,"value":59,"phase":"fade"},{"bar":213,"value":47,"phase":"fade"},{"bar":214,"value":35,"phase":"fade"},{"bar":215,"value":26,"phase":"fade"},{"bar":216,"value":-9,"phase":"down"},{"bar":217,"value":-15,"phase":"down"},{"bar":218,"value":-26,"phase":"down"},{"bar":219,"value":-32,"phase":"down"},{"bar":220,"value":-29,"phase":"down"},{"bar":221,"value":-44,"phase":"down"},{"bar":222,"value":-65,"phase":"down"},{"bar":223,"value":-74,"phase":"down"},{"bar":224,"value":-79,"phase":"down"},{"bar":225,"value":-82,"phase":"down"},{"bar":226,"value":-79,"phase":"ease"},{"bar":227,"value":-65,"phase":"ease"},{"bar":228,"value":-65,"phase":"ease"},{"bar":229,"value":-82,"phase":"down"},{"bar":230,"value":-103,"phase":"down"},{"bar":231,"value":-109,"phase":"down"},{"bar":232,"value":-109,"phase":"down"},{"bar":233,"value":-91,"phase":"ease"},{"bar":234,"value":-88,"phase":"ease"},{"bar":235,"value":-82,"phase":"ease"},{"bar":236,"value":-74,"phase":"ease"},{"bar":237,"value":-74,"phase":"ease"},{"bar":238,"value":-53,"phase":"down"},{"bar":239,"value":-53,"phase":"down"},{"bar":240,"value":-38,"phase":"ease"},{"bar":241,"value":-15,"phase":"ease"},{"bar":242,"value":24,"phase":"up"},{"bar":243,"value":44,"phase":"up"},{"bar":244,"value":59,"phase":"up"},{"bar":245,"value":74,"phase":"up"},{"bar":246,"value":88,"phase":"up"},{"bar":247,"value":97,"phase":"up"},{"bar":248,"value":112,"phase":"up"},{"bar":249,"value":115,"phase":"up"},{"bar":250,"value":103,"phase":"fade"},{"bar":251,"value":94,"phase":"fade"},{"bar":252,"value":85,"phase":"fade"},{"bar":253,"value":65,"phase":"fade"},{"bar":254,"value":41,"phase":"fade"},{"bar":255,"value":29,"phase":"fade"},{"bar":256,"value":24,"phase":"fade"},{"bar":257,"value":12,"phase":"fade"},{"bar":258,"value":6,"phase":"fade"},{"bar":259,"value":-9,"phase":"down"},{"bar":260,"value":-15,"phase":"down"},{"bar":261,"value":-15,"phase":"down"},{"bar":262,"value":-18,"phase":"down"},{"bar":263,"value":3,"phase":"up"},{"bar":264,"value":3,"phase":"fade"},{"bar":265,"value":-6,"phase":"down"},{"bar":266,"value":-6,"phase":"down"},{"bar":267,"value":-12,"phase":"down"},{"bar":268,"value":-15,"phase":"down"},{"bar":269,"value":-21,"phase":"down"},{"bar":270,"value":-18,"phase":"ease"},{"bar":271,"value":-18,"phase":"ease"},{"bar":272,"value":-15,"phase":"ease"},{"bar":273,"value":-18,"phase":"down"},{"bar":274,"value":-18,"phase":"down"},{"bar":275,"value":-24,"phase":"down"},{"bar":276,"value":-35,"phase":"down"},{"bar":277,"value":-35,"phase":"down"},{"bar":278,"value":-41,"phase":"ease"},{"bar":279,"value":-44,"phase":"ease"},{"bar":280,"value":-47,"phase":"ease"},{"bar":281,"value":-44,"phase":"down"},{"bar":282,"value":-44,"phase":"down"},{"bar":283,"value":-44,"phase":"down"},{"bar":284,"value":-29,"phase":"ease"},{"bar":285,"value":-18,"phase":"ease"},{"bar":286,"value":-12,"phase":"ease"},{"bar":287,"value":-6,"phase":"ease"}
]
},
"vconcat":[
{"width":1274,"height":288,
"layer":[
{"data":{"name":"candles"},"mark":{"type":"rule","strokeWidth":1,"clip":true},
"encoding":{"x":{"field":"bar","type":"quantitative","axis":{"labels":false,"labelPadding":0,"minExtent":0,"maxExtent":0},"scale":{"domain":[-0.23,291],"nice":false,"zero":false,"padding":0}},
"y":{"field":"low","type":"quantitative","scale":{"domain":[10585,17043],"nice":false,"zero":false},
"axis":{"orient":"right","values":[11000,12000,13000,14000,15000,16000],"format":",.1f","labelPadding":9,"labelOffset":-1}},
"y2":{"field":"high"},
"color":{"condition":{"test":"datum.close>=datum.open","value":"#26a69a"},"value":"#ef5350"}}},
{"data":{"name":"candles"},"mark":{"type":"bar","size":2,"strokeWidth":1,"orient":"vertical","clip":true},
"encoding":{"x":{"field":"bar","type":"quantitative"},
"y":{"field":"open","type":"quantitative"},"y2":{"field":"close"},
"fill":{"condition":{"test":"datum.close>=datum.open","value":"#10112b"},"value":"#ef5350"},
"stroke":{"condition":{"test":"datum.close>=datum.open","value":"#26a69a"},"value":"#ef5350"}}},
{"data":{"name":"fast"},"mark":{"type":"line","stroke":"#0e9ab5","strokeWidth":1.2,"clip":true,"interpolate":"monotone"},
"encoding":{"x":{"field":"bar","type":"quantitative"},"y":{"field":"value","type":"quantitative"}}},
{"data":{"name":"slow"},"mark":{"type":"line","stroke":"#d8c47a","strokeWidth":1.2,"clip":true,"interpolate":"monotone"},
"encoding":{"x":{"field":"bar","type":"quantitative"},"y":{"field":"value","type":"quantitative"}}},
{"mark":{"type":"rule","stroke":"#ffffff","strokeWidth":1},"encoding":{"x":{"datum":-0.23},"x2":{"datum":306},"y":{"datum":10585}}},
{"mark":{"type":"rule","stroke":"#2e3146","strokeWidth":1},"encoding":{"x":{"datum":291},"y":{"datum":10600},"y2":{"datum":17043}}},
{"mark":{"type":"rect","fill":"#10112b","fillOpacity":0.6,"stroke":"#3c3e50","strokeWidth":1,"cornerRadius":3},"encoding":{"x":{"datum":0.46},"x2":{"datum":6.86},"y":{"datum":15832},"y2":{"datum":15383}}},
{"mark":{"type":"point","shape":"M-1,0.5 L0,-0.5 L1,0.5","filled":false,"stroke":"#d1d4dc","strokeWidth":1.3,"size":64,"opacity":1},"encoding":{"x":{"datum":3.66},"y":{"datum":15630}}},
{"mark":{"type":"point","shape":"M-0.943,-0.333 A1,1 0 0 1 0.943,-0.333 Z","filled":true,"fill":"#3a3a3a","stroke":null,"size":324,"opacity":1},"encoding":{"x":{"datum":3.2},"y":{"datum":16706}}},
{"mark":{"type":"point","shape":"M-0.943,-0.333 L0.943,-0.333 A1,1 0 0 1 0.943,0.333 L-0.943,0.333 A1,1 0 0 1 -0.943,-0.333 Z","filled":true,"fill":"#ef5a3c","stroke":null,"size":324,"opacity":1},"encoding":{"x":{"datum":3.2},"y":{"datum":16706}}},
{"mark":{"type":"point","shape":"M-0.943,0.333 L0.943,0.333 A1,1 0 0 1 -0.943,0.333 Z","filled":true,"fill":"#fdd835","stroke":null,"size":324,"opacity":1},"encoding":{"x":{"datum":3.2},"y":{"datum":16706}}},
{"mark":{"type":"text","align":"left","baseline":"middle","fontSize":15.5,"color":"#b2b5be","text":"Germany 30 · 1D · OANDA"},"encoding":{"x":{"datum":6.2},"y":{"datum":16706}}},
{"mark":{"type":"text","align":"left","baseline":"middle","fontSize":12,"color":"#b2b5be","text":"O"},"encoding":{"x":{"datum":48.5},"y":{"datum":16706}}},
{"mark":{"type":"text","align":"left","baseline":"middle","fontSize":12,"color":"#26a69a","text":"15,511.6"},"encoding":{"x":{"datum":51},"y":{"datum":16706}}},
{"mark":{"type":"text","align":"left","baseline":"middle","fontSize":12,"color":"#b2b5be","text":"H"},"encoding":{"x":{"datum":63.8},"y":{"datum":16706}}},
{"mark":{"type":"text","align":"left","baseline":"middle","fontSize":12,"color":"#26a69a","text":"15,618.5"},"encoding":{"x":{"datum":66},"y":{"datum":16706}}},
{"mark":{"type":"text","align":"left","baseline":"middle","fontSize":12,"color":"#b2b5be","text":"L"},"encoding":{"x":{"datum":78.9},"y":{"datum":16706}}},
{"mark":{"type":"text","align":"left","baseline":"middle","fontSize":12,"color":"#26a69a","text":"15,465.6"},"encoding":{"x":{"datum":80.7},"y":{"datum":16706}}},
{"mark":{"type":"text","align":"left","baseline":"middle","fontSize":12,"color":"#b2b5be","text":"C"},"encoding":{"x":{"datum":93.5},"y":{"datum":16706}}},
{"mark":{"type":"text","align":"left","baseline":"middle","fontSize":12,"color":"#26a69a","text":"15,593.5"},"encoding":{"x":{"datum":95.8},"y":{"datum":16706}}},
{"mark":{"type":"text","align":"left","baseline":"middle","fontSize":12,"color":"#26a69a","text":"+81.9 (+0.53%)"},"encoding":{"x":{"datum":108.6},"y":{"datum":16706}}},
{"mark":{"type":"text","align":"left","baseline":"middle","fontSize":13,"color":"#b2b5be","text":"MACD & RSI Overlay (Expo)"},"encoding":{"x":{"datum":1.14},"y":{"datum":16146}}},
{"mark":{"type":"rect","fill":"#06a763"},"encoding":{"x":{"datum":266},"x2":{"datum":288.5},"y":{"datum":16841},"y2":{"datum":16213}}},
{"mark":{"type":"text","align":"center","baseline":"middle","fontSize":13,"fontWeight":500,"color":"#ffffff","text":"MACD: Bullish"},"encoding":{"x":{"datum":277.2},"y":{"datum":16527}}},
{"mark":{"type":"rect","fill":"#131316","stroke":"#3a3a3a","strokeWidth":1,"cornerRadius":3},"encoding":{"x":{"datum":292},"x2":{"datum":305},"y":{"datum":16975},"y2":{"datum":16392}}},
{"mark":{"type":"text","align":"left","baseline":"middle","fontSize":12,"color":"#d1d4dc","text":"EUR"},"encoding":{"x":{"datum":292.8},"y":{"datum":16683}}},
{"mark":{"type":"rect","fill":"#26a69a"},"encoding":{"x":{"datum":291.2},"x2":{"datum":305},"y":{"datum":15765},"y2":{"datum":15383}}},
{"mark":{"type":"text","align":"center","baseline":"middle","fontSize":12,"fontWeight":500,"color":"#ffffff","text":"15,593.5"},"encoding":{"x":{"datum":298.3},"y":{"datum":15574}}}
]},
{"width":1274,"height":146,
"layer":[
{"data":{"name":"histogram"},"mark":{"type":"bar","size":3,"orient":"vertical","clip":true},
"encoding":{"x":{"field":"bar","type":"quantitative","scale":{"domain":[-0.23,291],"nice":false,"zero":false,"padding":0},
"axis":{"values":[4,24,47,66,88,110,131,154,176,197,219,240,262,282],"labelExpr":"['Feb','Mar','Apr','May','Jun','Jul','Aug','Sep','Oct','Nov','Dec','2023','Feb','Mar'][indexof([4,24,47,66,88,110,131,154,176,197,219,240,262,282],datum.value)]","labelPadding":7,"labelOffset":-2,"labelOverlap":false,"labelFlush":false}},
"y":{"field":"value","type":"quantitative","scale":{"domain":[-717.6,571],"nice":false,"zero":false},
"axis":{"orient":"right","values":[-400,0,400],"format":",.1f","labelPadding":9,"labelOffset":-1}},
"color":{"field":"phase","type":"nominal","legend":null,"scale":{"domain":["up","fade","down","ease"],"range":["#26a69a","#b2dfdb","#ff5252","#ffcdd2"]}}}},
{"data":{"name":"macd"},"mark":{"type":"line","stroke":"#2459d6","strokeWidth":1.2,"clip":true,"interpolate":"monotone"},
"encoding":{"x":{"field":"bar","type":"quantitative"},"y":{"field":"value","type":"quantitative"}}},
{"data":{"name":"signal"},"mark":{"type":"line","stroke":"#e0640f","strokeWidth":1.2,"clip":true,"interpolate":"monotone"},
"encoding":{"x":{"field":"bar","type":"quantitative"},"y":{"field":"value","type":"quantitative"}}},
{"mark":{"type":"rule","stroke":"#787b86","strokeWidth":1,"strokeDash":[4,4]},"encoding":{"x":{"datum":288},"x2":{"datum":291},"y":{"datum":0}}},
{"mark":{"type":"rule","stroke":"#2e3146","strokeWidth":1},"encoding":{"x":{"datum":-0.23},"x2":{"datum":306},"y":{"datum":-717.6}}},
{"mark":{"type":"rule","stroke":"#2e3146","strokeWidth":1},"encoding":{"x":{"datum":291},"y":{"datum":560},"y2":{"datum":-960}}},
{"mark":{"type":"text","align":"left","baseline":"middle","fontSize":12,"color":"#b2b5be","text":"MACD"},"encoding":{"x":{"datum":1.14},"y":{"datum":421}}},
{"mark":{"type":"point","shape":"M-0.98,-0.49 H-0.13 V0.47 H-0.55 V-0.06 H-0.98 Z M-0.03,-0.28 a0.2,0.2 0 1 0 0.4,0 a0.2,0.2 0 1 0 -0.4,0 Z M0.23,0.47 L0.62,-0.49 H1 L0.62,0.47 Z","filled":true,"fill":"#ececec","stroke":"#15161f","strokeWidth":0.8,"size":960,"opacity":1},"encoding":{"x":{"datum":5.2},"y":{"datum":-541}}},
{"mark":{"type":"text","align":"left","baseline":"middle","fontSize":21,"fontWeight":500,"color":"#ececec","text":"TradingView"},"encoding":{"x":{"datum":10.5},"y":{"datum":-550}}}
]}
]
}
